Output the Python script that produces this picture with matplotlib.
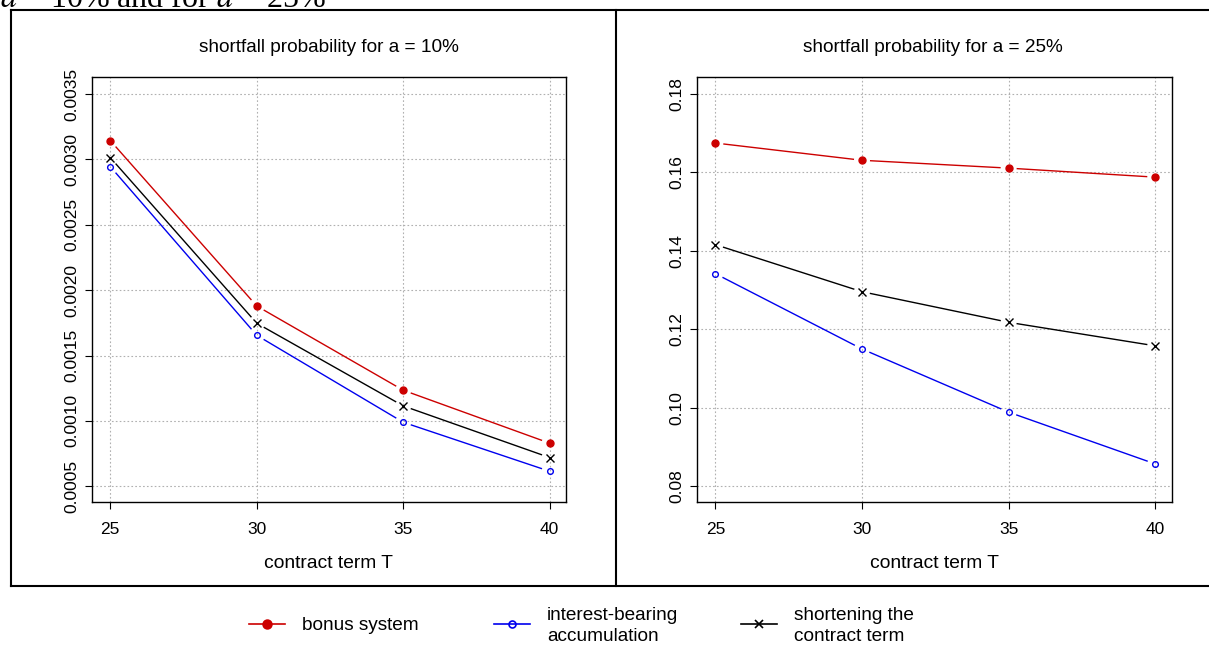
import numpy as np
import matplotlib
matplotlib.use("Agg")
import matplotlib.pyplot as plt
from matplotlib.lines import Line2D

plt.rcParams['font.family'] = ['Liberation Sans', 'DejaVu Sans']

W, H = 1209, 645

terms = [25, 30, 35, 40]

# a = 10%
bonus_10 = [0.003144, 0.001879, 0.001235, 0.000830]
interest_10 = [0.002945, 0.001655, 0.000990, 0.000615]
shorten_10 = [0.003014, 0.001747, 0.001115, 0.000720]

# a = 25%
bonus_25 = [0.1675, 0.1631, 0.1611, 0.1588]
interest_25 = [0.1342, 0.1150, 0.0989, 0.0857]
shorten_25 = [0.1416, 0.1296, 0.1218, 0.1158]

yticks_10 = [0.0005, 0.0010, 0.0015, 0.0020, 0.0025, 0.0030, 0.0035]
yticks_25 = [0.08, 0.10, 0.12, 0.14, 0.16, 0.18]

RED = '#cc0000'
BLUE = '#0000ee'
BLACK = '#000000'


def fx(px):
    return px / W


def fy(py):
    return 1 - py / H


fig = plt.figure(figsize=(W / 100, H / 100), dpi=100)


def gapped_line(ax, xs, ys, color, gap=8):
    # R type="b": line segments stop short of the points
    pts = ax.transData.transform(np.column_stack([xs, ys]))
    inv = ax.transData.inverted()
    for p, q in zip(pts[:-1], pts[1:]):
        d = q - p
        n = np.hypot(*d)
        if n <= 2 * gap:
            continue
        u = d / n
        a = inv.transform(p + u * gap)
        b = inv.transform(q - u * gap)
        ax.plot([a[0], b[0]], [a[1], b[1]], color=color, lw=1.0,
                solid_capstyle='butt')


def panel(left, right, ylim, yticks, fmt, series):
    ax = fig.add_axes([fx(left), fy(502), fx(right - left), (502 - 77.3) / H])
    ax.set_xlim(24.385, 40.56)
    ax.set_ylim(*ylim)
    ax.set_xticks(terms)
    ax.set_yticks(yticks)
    ax.set_xticklabels([str(t) for t in terms], fontsize=12.5)
    ax.set_yticklabels([fmt % v for v in yticks], fontsize=12.5,
                       rotation=90, va='center')
    ax.tick_params(length=5, width=0.8)
    ax.tick_params(axis='x', pad=9.5)
    ax.tick_params(axis='y', pad=4.5)
    ax.grid(True, color='#b0b0b0', ls=(0, (1.5, 2)), lw=0.8)
    for s in ax.spines.values():
        s.set_linewidth(1.0)
    for ys, color, marker, ms, mfc in series:
        gapped_line(ax, terms, ys, color)
        ax.plot(terms, ys, ls='none', marker=marker, ms=ms, color=color,
                mfc=mfc, mew=1.0)
    return ax


series_10 = [
    (bonus_10, RED, 'o', 5.0, RED),
    (interest_10, BLUE, 'o', 4.1, 'none'),
    (shorten_10, BLACK, 'x', 5.5, BLACK),
]
series_25 = [
    (bonus_25, RED, 'o', 5.0, RED),
    (interest_25, BLUE, 'o', 4.1, 'none'),
    (shorten_25, BLACK, 'x', 5.5, BLACK),
]

panel(92.3, 566, (0.00038, 0.003628), yticks_10, '%.4f', series_10)
panel(697.3, 1171.7, (0.076, 0.18425), yticks_25, '%.2f', series_25)

# titles and axis labels
fig.text(fx(329), fy(48), 'shortfall probability for a = 10%', ha='center',
         va='center', fontsize=13.7)
fig.text(fx(933), fy(48), 'shortfall probability for a = 25%', ha='center',
         va='center', fontsize=13.7)
fig.text(fx(329), fy(563), 'contract term T', ha='center', va='center',
         fontsize=13.9)
fig.text(fx(934), fy(563), 'contract term T', ha='center', va='center',
         fontsize=13.9)

# outer frame and divider
frame_kw = dict(color='black', lw=1.5, transform=fig.transFigure)
fig.add_artist(Line2D([fx(11), fx(1215)], [fy(10), fy(10)], **frame_kw))
fig.add_artist(Line2D([fx(11), fx(1215)], [fy(586), fy(586)], **frame_kw))
fig.add_artist(Line2D([fx(11), fx(11)], [fy(10), fy(586)], **frame_kw))
fig.add_artist(Line2D([fx(616), fx(616)], [fy(10), fy(586)], **frame_kw))

# cut-off caption line above the figure
fig.text(fx(0), fy(7), r'$a$ = 10% and for $a$ = 25%',
         family=['Liberation Serif', 'DejaVu Serif'], fontsize=23,
         ha='left', va='baseline', math_fontfamily='stix')

# legend
leg = [
    (249, 285, 302, 'bonus system', RED, 'o', 6.3, RED),
    (494, 530, 547, 'interest-bearing\naccumulation', BLUE, 'o', 5.0, 'none'),
    (741, 777, 794, 'shortening the\ncontract term', BLACK, 'x', 6.0, BLACK),
]
for x0, x1, tx, label, color, marker, ms, mfc in leg:
    fig.add_artist(Line2D([fx(x0), fx(x1)], [fy(624), fy(624)], color=color,
                          lw=1.2, transform=fig.transFigure))
    fig.add_artist(Line2D([fx((x0 + x1) / 2)], [fy(624)], color=color,
                          marker=marker, ms=ms, mfc=mfc, mew=1.2, ls='none',
                          transform=fig.transFigure))
    fig.text(fx(tx), fy(626), label, ha='left', va='center', fontsize=13.7,
             linespacing=1.25)

fig.savefig('out.png', dpi=100)
